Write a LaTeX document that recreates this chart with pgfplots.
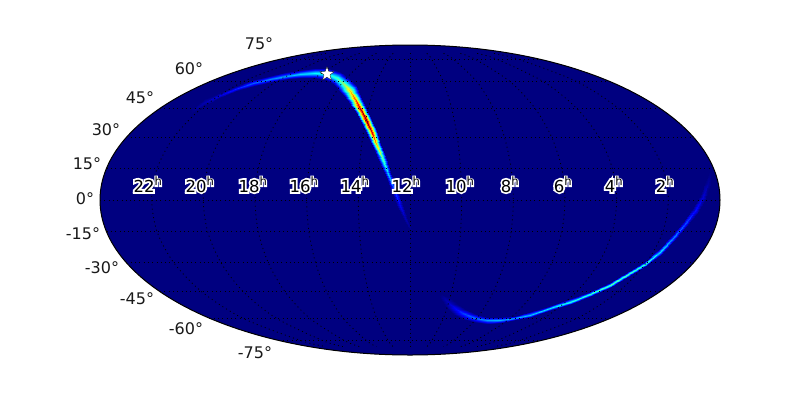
\documentclass[border=0pt]{standalone}
\usepackage{fontspec}
\setmainfont{DejaVu Sans}
\newfontface\hourhalo[FakeBold=22]{DejaVu Sans}
\usepackage{pgfplots}
\usepackage{pgfplotstable}
\pgfplotsset{compat=1.18}
\usetikzlibrary{plotmarks}

\definecolor{skybg}{rgb}{0,0,0.5}

% white star for the marked position
\pgfdeclareplotmark{skystar}{%
  \pgfpathmoveto{\pgfpointpolar{90}{\pgfplotmarksize}}%
  \pgfpathlineto{\pgfpointpolar{126}{0.42\pgfplotmarksize}}%
  \pgfpathlineto{\pgfpointpolar{162}{\pgfplotmarksize}}%
  \pgfpathlineto{\pgfpointpolar{198}{0.42\pgfplotmarksize}}%
  \pgfpathlineto{\pgfpointpolar{234}{\pgfplotmarksize}}%
  \pgfpathlineto{\pgfpointpolar{270}{0.42\pgfplotmarksize}}%
  \pgfpathlineto{\pgfpointpolar{306}{\pgfplotmarksize}}%
  \pgfpathlineto{\pgfpointpolar{342}{0.42\pgfplotmarksize}}%
  \pgfpathlineto{\pgfpointpolar{18}{\pgfplotmarksize}}%
  \pgfpathlineto{\pgfpointpolar{54}{0.42\pgfplotmarksize}}%
  \pgfpathclose
  \pgfusepathqfillstroke
}

% meridians: offsets from the 12h line, per pixel row
\pgfplotstableread{
y     k1    k2    k3    k4    k5
53.4  16.8  33.6  50.4  67.2  84.0
59.5  21.9  43.7  65.6  87.5  109.3
81.8  33.4  66.9  100.3 133.7 167.2
108.2 41.6  83.3  124.9 166.6 208.2
137.4 47.3  94.5  141.8 189.1 236.3
168.3 50.6  101.1 151.7 202.3 252.9
200.0 51.7  103.3 155.0 206.7 258.3
231.7 50.6  101.1 151.7 202.3 252.9
262.6 47.3  94.5  141.8 189.1 236.3
291.8 41.6  83.3  124.9 166.6 208.2
318.2 33.4  66.9  100.3 133.7 167.2
340.5 21.9  43.7  65.6  87.5  109.3
346.6 16.8  33.6  50.4  67.2  84.0
}\meridians

% upper arc: three points across the ribbon at each step
\pgfplotstableread{
x y m
189.0 109.3 0
190.0 111.0 0
191.0 112.7 0
203.6 99.4 0
205.0 102.0 0.05
206.4 104.6 0
219.0 92.7 0
220.0 95.0 0.10
221.0 97.3 0
234.1 86.7 0
235.0 89.0 0.16
235.9 91.4 0
252.2 80.1 0
253.0 83.0 0.22
253.8 85.9 0
269.4 76.1 0
270.0 79.0 0.26
270.6 81.9 0
286.4 72.1 0
287.0 75.5 0.30
287.6 78.9 0
299.6 69.5 0
300.0 73.5 0.34
300.4 77.5 0
315.1 68.0 0
315.0 73.0 0.38
314.9 78.0 0
328.3 68.2 0
327.0 74.0 0.40
325.7 79.9 0
340.6 72.0 0
337.0 78.0 0.45
333.4 84.0 0
350.8 79.5 0
345.0 85.0 0.55
339.2 90.5 0
356.5 86.4 0
350.0 91.0 0.68
343.5 95.6 0
361.1 95.5 0
355.0 99.0 0.80
348.9 102.5 0
366.3 107.2 0
361.0 110.0 0.95
355.7 112.8 0
372.0 119.6 0
367.0 122.0 1.00
362.0 124.4 0
376.6 131.1 0
372.0 133.0 0.90
367.4 134.9 0
381.2 144.3 0
377.0 146.0 0.65
372.8 147.7 0
386.7 158.5 0
383.0 160.0 0.45
379.3 161.5 0
391.3 172.8 0
388.0 174.0 0.32
384.7 175.2 0
397.3 188.8 0
394.0 190.0 0.20
390.7 191.2 0
402.8 204.9 0
400.0 206.0 0.11
397.2 207.1 0
407.3 217.0 0
405.0 218.0 0.05
402.7 219.0 0
412.4 231.4 0
411.0 232.0 0
409.6 232.6 0
}\arcupper

% lower arc
\pgfplotstableread{
x y m
443.3 292.0 0
441.0 294.0 0
438.8 296.0 0
451.5 298.5 0
448.0 302.0 0.06
444.5 305.5 0
459.2 304.5 0
456.0 309.0 0.13
452.8 313.5 0
467.1 309.5 0
465.0 314.0 0.20
462.9 318.5 0
476.2 313.7 0
475.0 318.0 0.24
473.8 322.3 0
487.3 316.5 0
487.0 320.0 0.28
486.7 323.5 0
499.8 317.4 0
500.0 320.0 0.30
500.2 322.6 0
514.6 315.6 0
515.0 318.0 0.30
515.4 320.4 0
529.4 312.3 0
530.0 314.5 0.33
530.6 316.7 0
549.3 305.9 0
550.0 308.0 0.36
550.7 310.1 0
569.3 299.4 0
570.0 301.5 0.42
570.7 303.6 0
589.1 291.5 0
590.0 293.5 0.45
590.9 295.5 0
609.0 282.5 0
610.0 284.5 0.48
611.0 286.5 0
623.9 274.1 0
625.0 276.0 0.46
626.1 277.9 0
643.7 262.1 0
645.0 264.0 0.44
646.3 265.9 0
658.3 250.2 0
660.0 252.0 0.35
661.7 253.8 0
671.1 236.3 0
673.0 238.0 0.26
674.9 239.7 0
682.9 222.3 0
685.0 224.0 0.20
687.1 225.7 0
692.1 209.1 0
695.0 211.0 0.14
697.9 212.9 0
699.8 195.5 0
703.0 197.0 0.08
706.2 198.5 0
705.1 182.1 0
708.0 183.0 0.03
710.9 183.9 0
709.1 171.5 0
711.0 172.0 0
712.9 172.5 0
}\arclower

% hour labels: black text on a white halo
\newcommand{\hourlabel}[2]{%
  \node[inner sep=0pt, anchor=base, text=white] at (axis cs:#1,192) {\fontsize{16.5}{18}\hourhalo #2\textsuperscript{h}};
  \node[inner sep=0pt, anchor=base, text=black] at (axis cs:#1,192) {\fontsize{16.5}{18}\selectfont #2\textsuperscript{h}};}
\newcommand{\latlabel}[3]{%
  \node[inner sep=0pt, text=black!90] at (axis cs:#1,#2) {\fontsize{16}{18}\selectfont #3};}

\begin{document}
\begin{tikzpicture}
\useasboundingbox (0,0) rectangle (800pt,400pt);
\begin{axis}[
  at={(0,0)}, anchor=south west,
  width=800pt, height=400pt, scale only axis,
  xmin=0, xmax=800, ymin=0, ymax=400, y dir=reverse,
  hide axis,
  colormap/jet, point meta min=0, point meta max=1,
  griddot/.style={black, line width=0.8pt, dash pattern=on 1pt off 3.3pt, forget plot},
]
\fill[skybg] (axis cs:410,200) ellipse [x radius=310pt, y radius=155pt];

\addplot[surf, shader=interp, mesh/cols=3, point meta=\thisrow{m}] table[x=x, y=y] {\arcupper};
\addplot[surf, shader=interp, mesh/cols=3, point meta=\thisrow{m}] table[x=x, y=y] {\arclower};

% parallels
\addplot[griddot] coordinates {(100,200) (720,200)};
\addplot[griddot] coordinates {(106.6,168.3) (713.4,168.3)};
\addplot[griddot] coordinates {(126.4,137.4) (693.6,137.4)};
\addplot[griddot] coordinates {(160.1,108.2) (659.9,108.2)};
\addplot[griddot] coordinates {(209.4,81.8) (610.6,81.8)};
\addplot[griddot] coordinates {(278.8,59.5) (541.2,59.5)};
\addplot[griddot] coordinates {(106.6,231.7) (713.4,231.7)};
\addplot[griddot] coordinates {(126.4,262.6) (693.6,262.6)};
\addplot[griddot] coordinates {(160.1,291.8) (659.9,291.8)};
\addplot[griddot] coordinates {(209.4,318.2) (610.6,318.2)};
\addplot[griddot] coordinates {(278.8,340.5) (541.2,340.5)};

% meridians
\addplot[griddot] coordinates {(410,53.4) (410,346.6)};
\pgfplotsinvokeforeach{k1,k2,k3,k4,k5}{
  \addplot[griddot, smooth] table[x expr=410-\thisrow{#1}, y=y] {\meridians};
  \addplot[griddot, smooth] table[x expr=410+\thisrow{#1}, y=y] {\meridians};
}

\draw[black, line width=1pt] (axis cs:410,200) ellipse [x radius=310pt, y radius=155pt];

\addplot[only marks, mark=skystar, mark size=7.5pt,
  mark options={fill=white, draw=black, line width=0.3pt}] coordinates {(327,74)};

\hourlabel{148}{22}
\hourlabel{200}{20}
\hourlabel{253}{18}
\hourlabel{304}{16}
\hourlabel{355}{14}
\hourlabel{406}{12}
\hourlabel{460}{10}
\hourlabel{510}{8}
\hourlabel{563}{6}
\hourlabel{614}{4}
\hourlabel{665}{2}

\latlabel{259}{44}{75°}
\latlabel{189}{69}{60°}
\latlabel{140}{98}{45°}
\latlabel{106}{130}{30°}
\latlabel{87}{164}{15°}
\latlabel{85}{199}{0°}
\latlabel{83}{234}{-15°}
\latlabel{102}{268}{-30°}
\latlabel{137}{299}{-45°}
\latlabel{186}{329}{-60°}
\latlabel{255}{353}{-75°}
\end{axis}
\end{tikzpicture}
\end{document}
